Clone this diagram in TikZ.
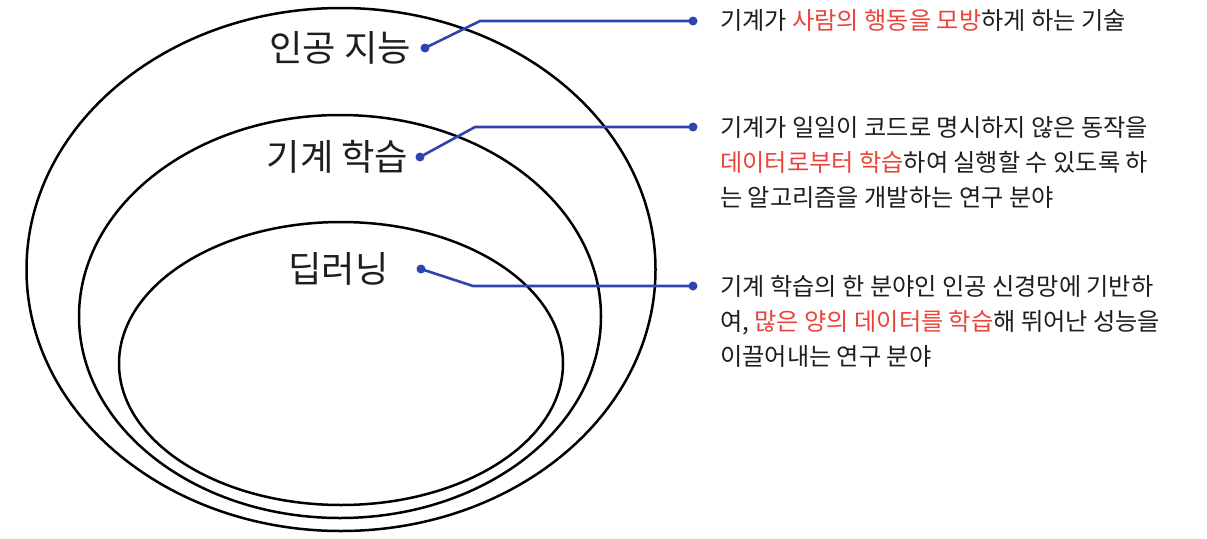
\documentclass[tikz,border=0pt]{standalone}
\usepackage{fontspec}
\setmainfont{Noto Sans CJK KR}
\definecolor{conblue}{RGB}{48,68,176}
\definecolor{hired}{RGB}{234,68,58}
\definecolor{txt}{RGB}{30,30,30}
\begin{document}
\begin{tikzpicture}[x=1pt,y=-1pt,
  ring/.style={draw=black,line width=2.5pt},
  conn/.style={draw=conblue,line width=2.6pt},
  cdot/.style={circle,fill=conblue,inner sep=0pt,minimum size=9pt},
  biglabel/.style={anchor=base,inner sep=0pt,text=txt,font=\fontsize{36.3}{42}\selectfont},
  desc/.style={anchor=base west,inner sep=0pt,text=txt,font=\fontsize{24.2}{35}\selectfont}]
\useasboundingbox[fill=white] (0,0) rectangle (1207,538);
% ellipses
\draw[ring] (341,269.5) ellipse [x radius=314.5pt, y radius=261.5pt];
\draw[ring] (340,316.5) ellipse [x radius=261pt, y radius=201.5pt];
\draw[ring] (341,363.5) ellipse [x radius=222pt, y radius=141.5pt];
% labels
\node[biglabel] (lai) at (340,61) {인공 지능};
\node[biglabel] (lml) at (337.5,170) {기계 학습};
\node[biglabel] (ldl) at (338.5,282) {딥러닝};
% dots
\node[cdot] (a1) at (425,48) {};
\node[cdot] (a2) at (693,21) {};
\coordinate (ka) at (480,21);
\node[cdot] (b1) at (420,157) {};
\node[cdot] (b2) at (693,127) {};
\coordinate (kb) at (475,127);
\node[cdot] (c1) at (421,269) {};
\node[cdot] (c2) at (693,286) {};
\coordinate (kc) at (473,286);
\draw[conn] (a1.center) -- (ka) -- (a2.center);
\draw[conn] (b1.center) -- (kb) -- (b2.center);
\draw[conn] (c1.center) -- (kc) -- (c2.center);
% descriptions
\node[desc] (t1) at (720,29) {기계가 \textcolor{hired}{사람의 행동을 모방}하게 하는 기술};
\node[desc] (t2a) at (720,136) {기계가 일일이 코드로 명시하지 않은 동작을};
\node[desc] (t2b) at (720,171) {\textcolor{hired}{데이터로부터 학습}하여 실행할 수 있도록 하};
\node[desc] (t2c) at (720,206) {는 알고리즘을 개발하는 연구 분야};
\node[desc] (t3a) at (720,295) {기계 학습의 한 분야인 인공 신경망에 기반하};
\node[desc] (t3b) at (720,330) {여, \textcolor{hired}{많은 양의 데이터를 학습}해 뛰어난 성능을};
\node[desc] (t3c) at (720,365) {이끌어내는 연구 분야};
\end{tikzpicture}
\end{document}
